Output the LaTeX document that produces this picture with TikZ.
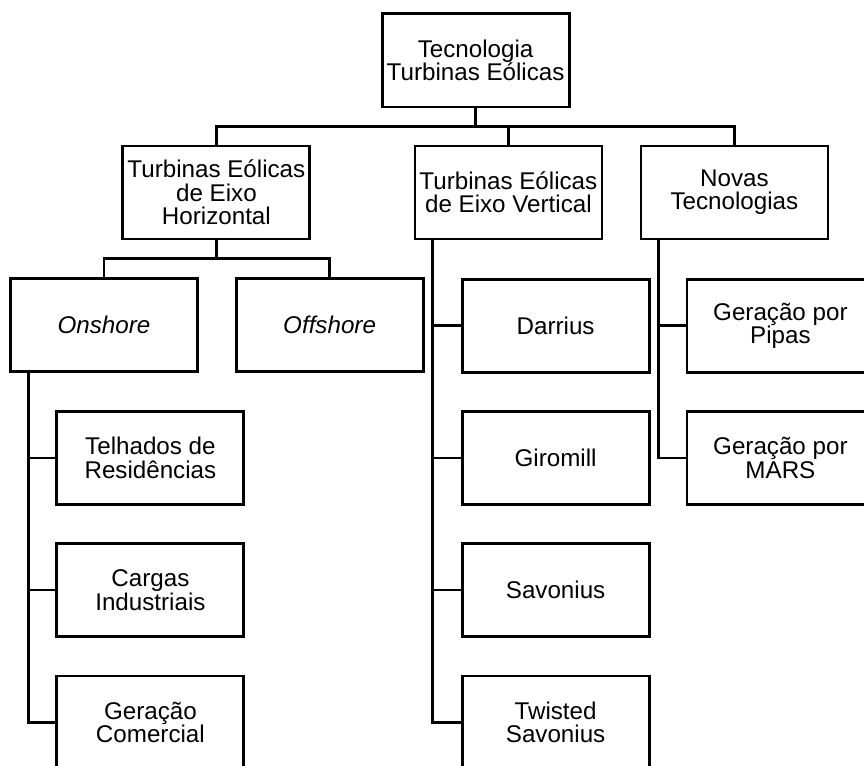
\documentclass[tikz,border=0pt]{standalone}
\usepackage{fontspec}
\setmainfont{Liberation Sans}
\tikzset{
    caixa/.style={draw, line width=2pt, minimum width=4.675cm, minimum height=2.325cm,
        inner sep=2pt, align=center, font=\fontsize{17.2}{16.6}\selectfont},
    liga/.style={line width=2pt}
}
\begin{document}
\begin{tikzpicture}
    \clip (0, 0) rectangle (21.6, -19.125);
    % raiz
    \node[caixa] (raiz) at(11.89, -1.51) {Tecnologia\\Turbinas Eólicas};
    % segundo nivel
    \node[caixa] (hor) at(5.41, -4.81) {Turbinas Eólicas\\de Eixo\\Horizontal};
    \node[caixa] (ver) at(12.71, -4.81) {Turbinas Eólicas\\de Eixo Vertical};
    \node[caixa] (nov) at(18.36, -4.81) {Novas\\Tecnologias};
    % eixo horizontal
    \node[caixa] (on) at(2.60, -8.13) {\itshape Onshore};
    \node[caixa] (off) at(8.24, -8.13) {\itshape Offshore};
    \node[caixa] (tel) at(3.76, -11.45) {Telhados de\\Residências};
    \node[caixa] (car) at(3.76, -14.75) {Cargas\\Industriais};
    \node[caixa] (com) at(3.76, -18.06) {Geração\\Comercial};
    % eixo vertical
    \node[caixa] (dar) at(13.89, -8.14) {Darrius};
    \node[caixa] (gir) at(13.89, -11.45) {Giromill};
    \node[caixa] (sav) at(13.89, -14.75) {Savonius};
    \node[caixa] (tws) at(13.89, -18.06) {Twisted\\Savonius};
    % novas tecnologias
    \node[caixa] (pip) at(19.51, -8.14) {Geração por\\Pipas};
    \node[caixa] (mar) at(19.51, -11.45) {Geração por\\MARS};
    % ligacoes
    \coordinate (bus1) at(11.89, -3.1625);
    \draw[liga] (raiz.south) -- (bus1);
    \draw[liga] (hor.north) |- (bus1) -| (nov.north);
    \draw[liga] (ver.north) -- (ver.north |- bus1);
    \coordinate (bus2) at(5.41, -6.46);
    \draw[liga] (hor.south) -- (bus2);
    \draw[liga] (on.north) |- (bus2) -| (off.north);
    \coordinate (eixoOn) at([xshift=0.475cm]on.south west);
    \draw[liga] (eixoOn) |- (com.west);
    \foreach \n in {tel, car}
        \draw[liga] (\n.west) -- (\n.west -| eixoOn);
    \coordinate (eixoVer) at([xshift=0.475cm]ver.south west);
    \draw[liga] (eixoVer) |- (tws.west);
    \foreach \n in {dar, gir, sav}
        \draw[liga] (\n.west) -- (\n.west -| eixoVer);
    \coordinate (eixoNov) at([xshift=0.475cm]nov.south west);
    \draw[liga] (eixoNov) |- (mar.west);
    \draw[liga] (pip.west) -- (pip.west -| eixoNov);
\end{tikzpicture}
\end{document}
